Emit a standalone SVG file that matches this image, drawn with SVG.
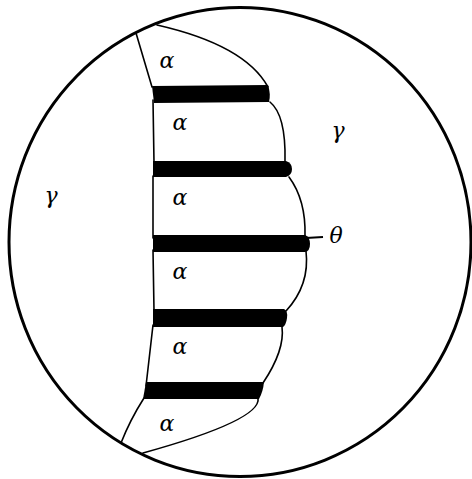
<svg xmlns="http://www.w3.org/2000/svg" width="472" height="479" viewBox="0 0 472 479">
<style>
.line{fill:none;stroke:#000;stroke-width:1.6;stroke-linecap:round}
.bar{fill:#000}
</style>
<rect width="472" height="479" fill="#fff"/>
<g id="disk"><ellipse cx="240" cy="242" rx="231" ry="234.5" fill="none" stroke="#000" stroke-width="3"/></g>
<g id="connectors">
<path class="line" d="M136,33 L152,87"/>
<path class="line" d="M153,100 L154,163"/>
<path class="line" d="M153,176 L153,238"/>
<path class="line" d="M153,250 L154,311"/>
<path class="line" d="M153,325 L146,386"/>
<path class="line" d="M144,398 Q130,420 121,443"/>
<path class="line" d="M157,25 Q245,45 268,87"/>
<path class="line" d="M270,102 Q286,115 285,161"/>
<path class="line" d="M289,177 Q306,200 305,236"/>
<path class="line" d="M306,251 Q310,285 286,311"/>
<path class="line" d="M282,327 Q285,350 263,383"/>
<path class="line" d="M258,398 Q262,420 143,453"/>
<path d="M306,238 L323,237" fill="none" stroke="#000" stroke-width="2.2"/>
</g>
<g id="bars">
<path class="bar" d="M152,86 L268,85 Q271,94 269,102 L154,103 Z"/>
<path class="bar" d="M153,161 L286,161 Q292,163 292,169 Q292,175 286,177 L153,177 Z"/>
<path class="bar" d="M153,235 L305,235 Q310,237 310,244 Q310,251 305,252 L153,252 Z"/>
<path class="bar" d="M153,309 L284,309 Q288,311 287,318 Q286,325 283,327 L153,327 Z"/>
<path class="bar" d="M146,382 L264,382 Q263,392 259,399 L143,399 Z"/>
</g>
<g id="labels" font-family="DejaVu Serif, serif" font-style="italic" font-size="22" text-anchor="middle" fill="#000">
<text x="167" y="68">α</text>
<text x="180" y="130">α</text>
<text x="180" y="205">α</text>
<text x="180" y="279">α</text>
<text x="180" y="354">α</text>
<text x="167" y="431">α</text>
<text x="338" y="138">γ</text>
<text x="51" y="203">γ</text>
<text x="336" y="243">θ</text>
</g>
</svg>
